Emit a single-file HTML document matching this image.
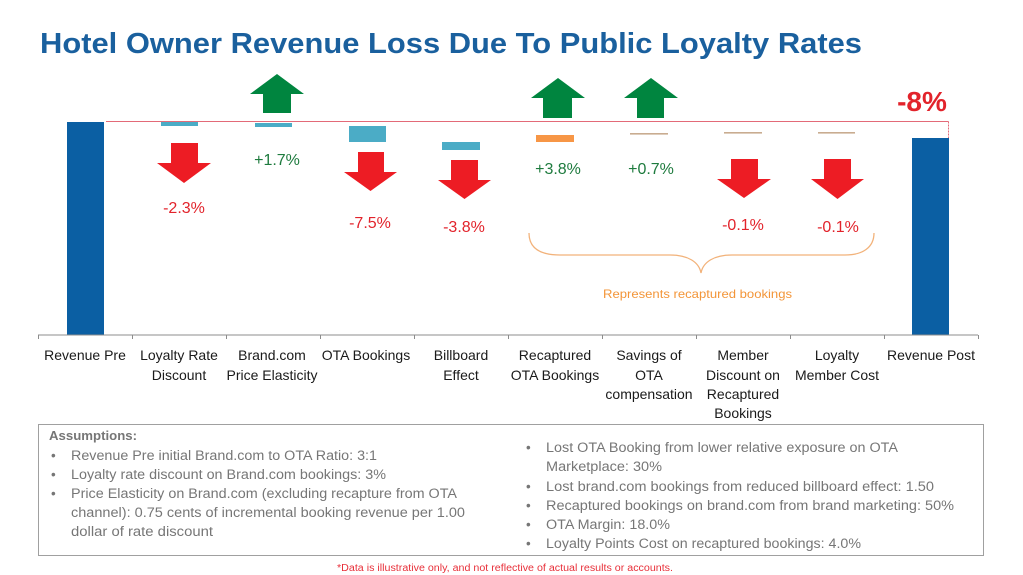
<!DOCTYPE html>
<html><head><meta charset="utf-8"><style>
html,body{margin:0;padding:0;background:#fff;}
svg{display:block;}
text{font-family:"Liberation Sans",Arial,sans-serif;}
</style></head><body>
<svg width="1023" height="575" viewBox="0 0 1023 575" xmlns="http://www.w3.org/2000/svg">
<rect width="1023" height="575" fill="#fff"/>
<!-- Title -->
<text x="40" y="53" font-size="29" font-weight="bold" fill="#1A609E" textLength="822" lengthAdjust="spacingAndGlyphs">Hotel Owner Revenue Loss Due To Public Loyalty Rates</text>

<!-- reference red line -->
<line x1="106" y1="121.5" x2="948.5" y2="121.5" stroke="#E36A78" stroke-width="1"/>
<line x1="948.5" y1="121.5" x2="948.5" y2="138" stroke="#E36A78" stroke-width="1" stroke-dasharray="2,1"/>

<!-- bars -->
<rect x="67" y="122" width="37" height="213" fill="#0B5FA3"/>
<rect x="912" y="138" width="37" height="197" fill="#0B5FA3"/>
<rect x="161" y="122" width="37" height="4" fill="#4BACC6"/>
<rect x="255" y="123" width="37" height="4" fill="#4BACC6"/>
<rect x="349" y="126" width="37" height="16" fill="#4BACC6"/>
<rect x="442" y="142" width="38" height="8" fill="#4BACC6"/>
<rect x="536" y="135" width="38" height="7" fill="#F79646"/>
<rect x="630" y="133" width="38" height="1.6" fill="#C9AC90"/>
<rect x="724" y="132" width="38" height="1.6" fill="#C9AC90"/>
<rect x="818" y="132" width="37" height="1.6" fill="#C9AC90"/>

<!-- axis -->
<line x1="38" y1="335" x2="978" y2="335" stroke="#8C8C8C" stroke-width="1"/>
<g stroke="#8C8C8C" stroke-width="1">
<line x1="38.5" y1="335" x2="38.5" y2="339"/>
<line x1="132.5" y1="335" x2="132.5" y2="339"/>
<line x1="226.5" y1="335" x2="226.5" y2="339"/>
<line x1="320.5" y1="335" x2="320.5" y2="339"/>
<line x1="414.5" y1="335" x2="414.5" y2="339"/>
<line x1="508.5" y1="335" x2="508.5" y2="339"/>
<line x1="602.5" y1="335" x2="602.5" y2="339"/>
<line x1="696.5" y1="335" x2="696.5" y2="339"/>
<line x1="790.5" y1="335" x2="790.5" y2="339"/>
<line x1="884.5" y1="335" x2="884.5" y2="339"/>
<line x1="978.5" y1="335" x2="978.5" y2="339"/>
</g>

<!-- red down arrows -->
<g fill="#ED1C24">
<polygon points="171,143 198,143 198,163 211,163 184,183 157,163 171,163"/>
<polygon points="358,152 384,152 384,172 397,172 370.5,191 344,172 358,172"/>
<polygon points="451,160 478,160 478,180 491,180 464.5,199 438,180 451,180"/>
<polygon points="731,159 758,159 758,179 771,179 744,198 717,179 731,179"/>
<polygon points="824,159 851,159 851,179 864,179 837.5,199 811,179 824,179"/>
</g>
<!-- green up arrows -->
<g fill="#00853F">
<polygon points="277,74 304,94 291,94 291,113 263,113 263,94 250,94"/>
<polygon points="558,78 585,98 572,98 572,118 543,118 543,98 531,98"/>
<polygon points="651,78 678,98 664,98 664,118 637,118 637,98 624,98"/>
</g>

<!-- value labels -->
<g font-size="16" text-anchor="middle">
<text x="184" y="213" fill="#E2232B">-2.3%</text>
<text x="277" y="165" fill="#1E7B3E">+1.7%</text>
<text x="370" y="228" fill="#E2232B">-7.5%</text>
<text x="464" y="232" fill="#E2232B">-3.8%</text>
<text x="558" y="174" fill="#1E7B3E">+3.8%</text>
<text x="651" y="174" fill="#1E7B3E">+0.7%</text>
<text x="743" y="230" fill="#E2232B">-0.1%</text>
<text x="838" y="232" fill="#E2232B">-0.1%</text>
</g>
<text x="922" y="111" font-size="28" font-weight="bold" fill="#E2232B" text-anchor="middle">-8%</text>

<!-- brace -->
<path d="M529,233 C529,248 540,255 560,255 L670,255 C688,255 699,262 701,273 C703,262 714,255 732,255 L845,255 C862,255 874,248 874,233" fill="none" stroke="#F2B27A" stroke-width="1.3"/>
<text x="697.5" y="298" font-size="12" fill="#F39538" text-anchor="middle" textLength="189" lengthAdjust="spacingAndGlyphs">Represents recaptured bookings</text>

<!-- category labels -->
<g font-size="14" fill="#1a1a1a" text-anchor="middle">
<text x="85" y="360">Revenue Pre</text>
<text x="179" y="360">Loyalty Rate</text>
<text x="179" y="380">Discount</text>
<text x="272" y="360">Brand.com</text>
<text x="272" y="380">Price Elasticity</text>
<text x="366" y="360">OTA Bookings</text>
<text x="461" y="360">Billboard</text>
<text x="461" y="380">Effect</text>
<text x="555" y="360">Recaptured</text>
<text x="555" y="380">OTA Bookings</text>
<text x="649" y="360">Savings of</text>
<text x="649" y="380">OTA</text>
<text x="649" y="399">compensation</text>
<text x="743" y="360">Member</text>
<text x="743" y="380">Discount on</text>
<text x="743" y="399">Recaptured</text>
<text x="743" y="418">Bookings</text>
<text x="837" y="360">Loyalty</text>
<text x="837" y="380">Member Cost</text>
<text x="931" y="360">Revenue Post</text>
</g>

<!-- assumptions box -->
<rect x="38.5" y="424.5" width="945" height="131" fill="none" stroke="#A0A0A0" stroke-width="1"/>
<text x="49" y="440" font-size="13" font-weight="bold" fill="#767676" textLength="88" lengthAdjust="spacingAndGlyphs">Assumptions:</text>
<g font-size="13.5" fill="#767676">
<text x="51" y="460">•</text>
<text x="71" y="460" textLength="306" lengthAdjust="spacingAndGlyphs">Revenue Pre initial Brand.com to OTA Ratio: 3:1</text>
<text x="51" y="479">•</text>
<text x="71" y="479" textLength="315" lengthAdjust="spacingAndGlyphs">Loyalty rate discount on Brand.com bookings: 3%</text>
<text x="51" y="498">•</text>
<text x="71" y="498" textLength="386" lengthAdjust="spacingAndGlyphs">Price Elasticity on Brand.com (excluding recapture from OTA</text>
<text x="71" y="517" textLength="394" lengthAdjust="spacingAndGlyphs">channel): 0.75 cents of incremental booking revenue per 1.00</text>
<text x="71" y="536" textLength="142" lengthAdjust="spacingAndGlyphs">dollar of rate discount</text>

<text x="526" y="452">•</text>
<text x="546" y="452" textLength="352" lengthAdjust="spacingAndGlyphs">Lost OTA Booking from lower relative exposure on OTA</text>
<text x="546" y="471" textLength="116" lengthAdjust="spacingAndGlyphs">Marketplace: 30%</text>
<text x="526" y="491">•</text>
<text x="546" y="491" textLength="388" lengthAdjust="spacingAndGlyphs">Lost brand.com bookings from reduced billboard effect: 1.50</text>
<text x="526" y="510">•</text>
<text x="546" y="510" textLength="408" lengthAdjust="spacingAndGlyphs">Recaptured bookings on brand.com from brand marketing: 50%</text>
<text x="526" y="529">•</text>
<text x="546" y="529" textLength="124" lengthAdjust="spacingAndGlyphs">OTA Margin: 18.0%</text>
<text x="526" y="548">•</text>
<text x="546" y="548" textLength="315" lengthAdjust="spacingAndGlyphs">Loyalty Points Cost on recaptured bookings: 4.0%</text>
</g>

<!-- footnote -->
<text x="337" y="571" font-size="10" fill="#E8303A" textLength="336" lengthAdjust="spacingAndGlyphs">*Data is illustrative only, and not reflective of actual results or accounts.</text>
</svg>
</body></html>
